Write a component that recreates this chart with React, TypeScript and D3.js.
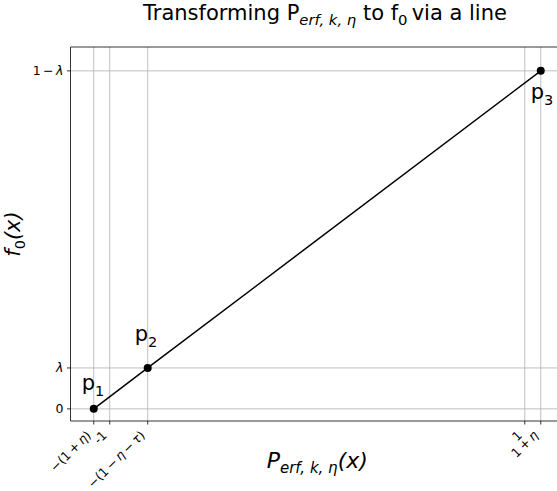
import { useEffect, useRef } from 'react'
import * as d3 from 'd3'

// tick positions and labels
const xTickValues = [-1.077, -1, -0.817, 1, 1.077]
const xTickLabels = ['−(1\u2009+\u2009η)', '-1', '−(1\u2009−\u2009η\u2009−\u2009τ)', '1', '1\u2009+\u2009η']
const yTickValues = [0, 0.108, 0.892]
const yTickLabels = ['0', 'λ', '1\u2009−\u2009λ']

// the three points joined by the line
const pointNames = ['1', '2', '3']
const pointX = [-1.077, -0.817, 1.077]
const pointY = [0, 0.108, 0.892]

const FONT = 'DejaVu Sans, sans-serif'
const GREEK = /([ηλτ])/

// writes a string into a text node, greek letters in oblique like mathtext
function mathText(sel: any, str: string) {
  str.split(GREEK).filter((s) => s !== '').forEach((part) => {
    const t = sel.append('tspan').text(part)
    if (GREEK.test(part)) t.attr('font-style', 'italic')
  })
}

export default function App() {
  const svgRef = useRef<SVGSVGElement | null>(null)

  useEffect(() => {
    const W = 557
    const H = 491
    const left = 70.5
    const right = 564
    const top = 47
    const bottom = 421

    const x = d3.scaleLinear().domain([-1.189, 1.189]).range([left, right])
    const y = d3.scaleLinear().domain([-0.032, 0.955]).range([bottom, top])

    const svg = d3.select(svgRef.current)
    svg.selectAll('*').remove()
    svg.attr('width', W).attr('height', H)

    svg.append('rect').attr('width', W).attr('height', H).attr('fill', '#fff')

    // grid
    const grid = svg.append('g').attr('stroke', '#b0b0b0').attr('stroke-width', 0.8)
    xTickValues.forEach((v) => {
      grid.append('line')
        .attr('x1', x(v)).attr('x2', x(v))
        .attr('y1', top).attr('y2', bottom)
    })
    yTickValues.forEach((v) => {
      grid.append('line')
        .attr('x1', left).attr('x2', right)
        .attr('y1', y(v)).attr('y2', y(v))
    })

    // the line and its points
    const pts = pointX.map((v, i) => [v, pointY[i]] as [number, number])
    const line = d3.line<[number, number]>().x((d) => x(d[0])).y((d) => y(d[1]))
    svg.append('path')
      .datum(pts)
      .attr('d', line)
      .attr('fill', 'none')
      .attr('stroke', '#000')
      .attr('stroke-width', 1.5)

    svg.selectAll('.pt')
      .data(pts)
      .join('circle')
      .attr('cx', (d) => x(d[0]))
      .attr('cy', (d) => y(d[1]))
      .attr('r', 4)
      .attr('fill', '#000')

    // labels next to points (offsets in px)
    const offs = [[-12, -19], [-13, -27], [-10, 28]]
    pts.forEach((d, i) => {
      const t = svg.append('text')
        .attr('x', x(d[0]) + offs[i][0])
        .attr('y', y(d[1]) + offs[i][1])
        .attr('font-family', FONT)
        .attr('font-size', 21)
        .attr('fill', '#000')
      t.append('tspan').text('p')
      t.append('tspan').attr('font-size', 14.5).attr('dy', 6).text(pointNames[i])
    })

    // spines
    const spines = svg.append('g').attr('stroke', '#000').attr('stroke-width', 0.8).attr('fill', 'none')
    spines.append('path').attr('d', `M${left},${bottom}V${top}H${right}V${bottom}Z`)

    // x ticks
    xTickValues.forEach((v, i) => {
      svg.append('line')
        .attr('x1', x(v)).attr('x2', x(v))
        .attr('y1', bottom).attr('y2', bottom + 3.5)
        .attr('stroke', '#000').attr('stroke-width', 0.8)
      const tx = x(v) - 2
      const ty = bottom + 15
      const t = svg.append('text')
        .attr('x', tx).attr('y', ty)
        .attr('transform', `rotate(-45,${tx},${ty})`)
        .attr('text-anchor', 'end')
        .attr('font-family', FONT)
        .attr('font-size', 12.5)
        .attr('fill', '#000')
      mathText(t, xTickLabels[i])
    })

    // y ticks
    yTickValues.forEach((v, i) => {
      svg.append('line')
        .attr('x1', left - 3.5).attr('x2', left)
        .attr('y1', y(v)).attr('y2', y(v))
        .attr('stroke', '#000').attr('stroke-width', 0.8)
      const t = svg.append('text')
        .attr('x', left - 7).attr('y', y(v) + 4.4)
        .attr('text-anchor', 'end')
        .attr('font-family', FONT)
        .attr('font-size', 12.5)
        .attr('fill', '#000')
      mathText(t, yTickLabels[i])
    })

    // title
    const title = svg.append('text')
      .attr('x', 325).attr('y', 20)
      .attr('text-anchor', 'middle')
      .attr('font-family', FONT)
      .attr('font-size', 21)
      .attr('fill', '#000')
    title.append('tspan').text('Transforming P')
    title.append('tspan').attr('font-size', 14.8).attr('font-style', 'italic').attr('dy', 5).text('erf, k, η')
    title.append('tspan').attr('dy', -5).text(' to f')
    title.append('tspan').attr('font-size', 14.8).attr('dy', 5).text('0')
    title.append('tspan').attr('dy', -5).text('\u2009via a line')

    // x label
    const xl = svg.append('text')
      .attr('x', (left + right) / 2).attr('y', 468)
      .attr('text-anchor', 'middle')
      .attr('font-family', FONT)
      .attr('font-size', 22)
      .attr('font-style', 'italic')
      .attr('fill', '#000')
    xl.append('tspan').text('P')
    xl.append('tspan').attr('font-size', 15).attr('dy', 5).text('erf, k, η')
    xl.append('tspan').attr('dy', -5).text('(x)')

    // y label
    const yx = 20
    const yy = (top + bottom) / 2
    const yl = svg.append('text')
      .attr('x', yx).attr('y', yy)
      .attr('transform', `rotate(-90,${yx},${yy})`)
      .attr('text-anchor', 'middle')
      .attr('font-family', FONT)
      .attr('font-size', 21)
      .attr('font-style', 'italic')
      .attr('fill', '#000')
    yl.append('tspan').text('f')
    yl.append('tspan').attr('font-size', 14.5).attr('font-style', 'normal').attr('dy', 5).text('0')
    yl.append('tspan').attr('dy', -5).text('(x)')
  }, [])

  return (
    <div style={{ position: 'absolute', left: 0, top: 0, width: 557, height: 491, overflow: 'hidden' }}>
      <svg ref={svgRef} style={{ display: 'block' }} />
    </div>
  )
}
